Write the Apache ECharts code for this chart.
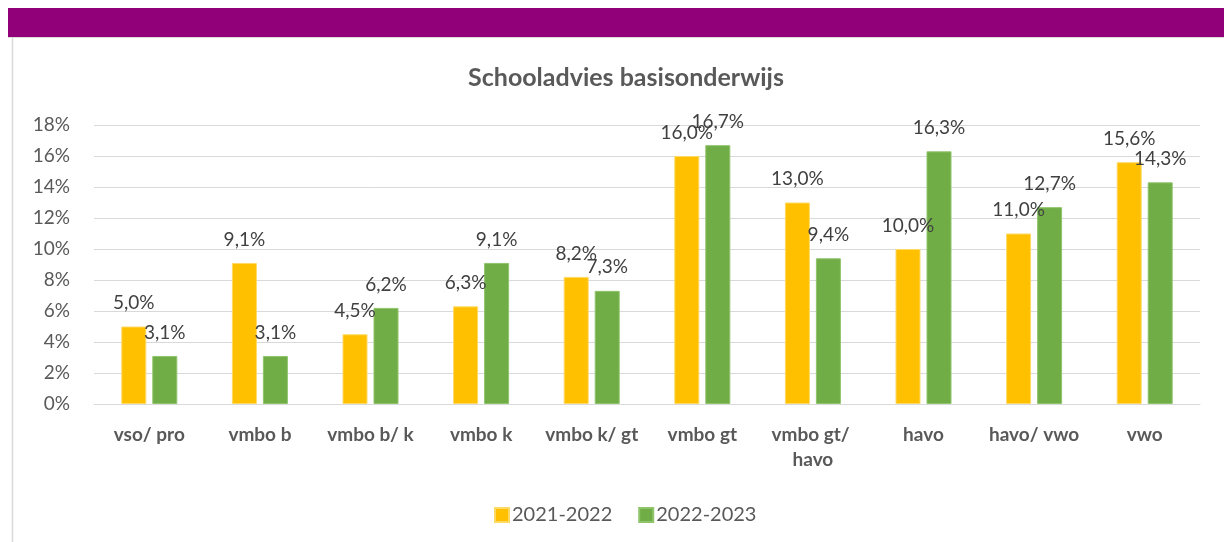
<!DOCTYPE html>
<html>
<head>
<meta charset="utf-8">
<script src="https://cdn.jsdelivr.net/npm/echarts@6/dist/echarts.min.js"></script>
<style>
  html, body { margin: 0; padding: 0; background: #fff; }
  #chart { width: 1224px; height: 542px; }
</style>
</head>
<body>
<div id="chart"></div>
<script>
// schooladvies per niveau, in procenten
const categories = ['vso/ pro', 'vmbo b', 'vmbo b/ k', 'vmbo k', 'vmbo k/ gt', 'vmbo gt', 'vmbo gt/ havo', 'havo', 'havo/ vwo', 'vwo'];
const year1 = [5.0, 9.1, 4.5, 6.3, 8.2, 16.0, 13.0, 10.0, 11.0, 15.6];
const year2 = [3.1, 3.1, 6.2, 9.1, 7.3, 16.7, 9.4, 16.3, 12.7, 14.3];
const yTicks = [0, 2, 4, 6, 8, 10, 12, 14, 16, 18];

const FONT = 'Lato, "Open Sans", sans-serif';
const chart = echarts.init(document.getElementById('chart'));

const pct = (v) => v.toFixed(1).replace('.', ',') + '%';

chart.setOption({
  backgroundColor: '#ffffff',
  animation: false,
  textStyle: { fontFamily: FONT },
  graphic: [
    // paarse balk bovenaan
    { type: 'rect', shape: { x: 8, y: 8, width: 1216, height: 29 }, style: { fill: '#910078' } },
    { type: 'line', shape: { x1: 8, y1: 37.5, x2: 1224, y2: 37.5 }, style: { stroke: '#d9d9d9', lineWidth: 1 } },
    { type: 'line', shape: { x1: 12.5, y1: 38, x2: 12.5, y2: 542 }, style: { stroke: '#d9d9d9', lineWidth: 1.5 } }
  ],
  title: {
    text: 'Schooladvies basisonderwijs',
    left: 621,
    top: 60,
    textAlign: 'center',
    textStyle: { fontFamily: FONT, fontSize: 25, fontWeight: 'bold', color: '#595959' }
  },
  legend: {
    left: 489,
    top: 500,
    itemWidth: 14,
    itemHeight: 14,
    itemGap: 26,
    icon: 'rect',
    textStyle: { fontFamily: FONT, fontSize: 20, color: '#595959', padding: [0, 0, 0, -2] },
    data: ['2021-2022', '2022-2023']
  },
  grid: { left: 94, right: 24, top: 125, bottom: 138 },
  xAxis: {
    type: 'category',
    data: categories,
    axisLine: { lineStyle: { color: '#d9d9d9', width: 1 } },
    axisTick: { show: false },
    axisLabel: {
      interval: 0,
      margin: 18,
      width: 115,
      overflow: 'break',
      lineHeight: 25,
      fontFamily: FONT,
      fontSize: 19,
      fontWeight: 'bold',
      color: '#595959'
    }
  },
  yAxis: {
    type: 'value',
    min: 0,
    max: 18,
    interval: 2,
    axisLine: { show: false },
    axisTick: { show: false },
    splitLine: { lineStyle: { color: '#d9d9d9', width: 1 } },
    axisLabel: {
      margin: 24,
      fontFamily: FONT,
      fontSize: 19,
      color: '#595959',
      formatter: (v) => yTicks.includes(v) ? v + '%' : ''
    }
  },
  series: [
    {
      name: '2021-2022',
      type: 'bar',
      data: year1,
      barWidth: 25,
      barGap: '24%',
      itemStyle: { color: '#ffc000', borderColor: '#ffd966', borderWidth: 1 },
      label: {
        show: true, position: 'top', distance: 14,
        fontFamily: FONT, fontSize: 19, color: '#404040',
        formatter: (p) => pct(p.value)
      }
    },
    {
      name: '2022-2023',
      type: 'bar',
      data: year2,
      barWidth: 25,
      itemStyle: { color: '#70ad47', borderColor: '#8fc46a', borderWidth: 1 },
      label: {
        show: true, position: 'top', distance: 14,
        fontFamily: FONT, fontSize: 19, color: '#404040',
        formatter: (p) => pct(p.value)
      }
    }
  ]
});
</script>
</body>
</html>
